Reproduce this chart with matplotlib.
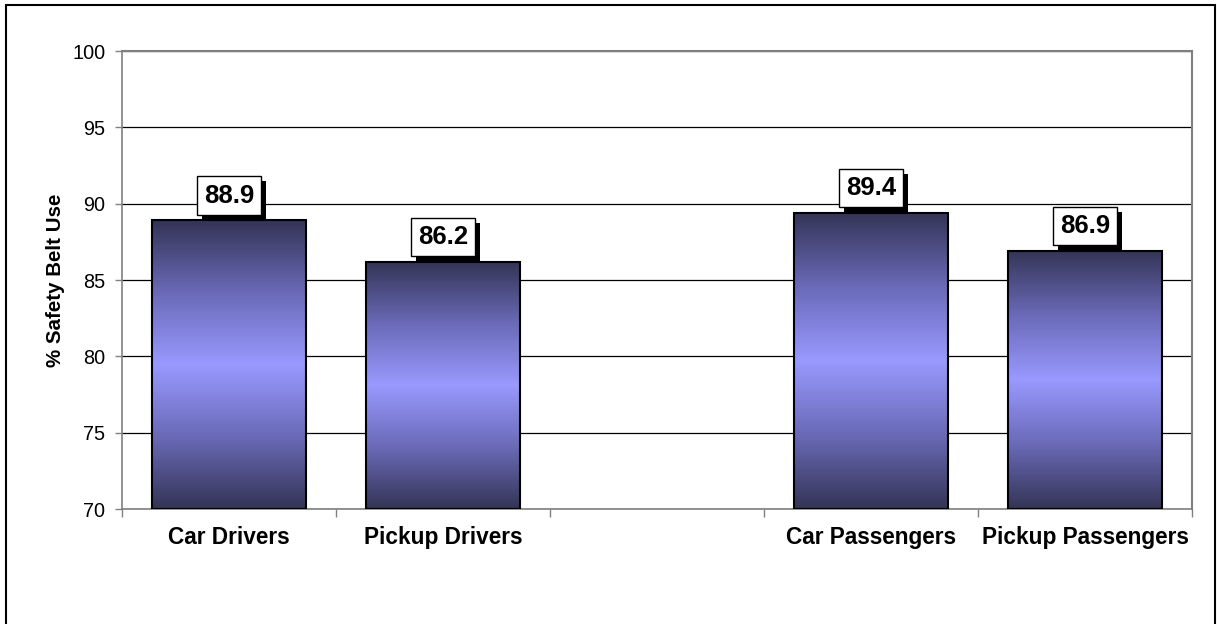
import numpy as np
import matplotlib
matplotlib.use("Agg")
import matplotlib.pyplot as plt
import matplotlib.patheffects as pe
from matplotlib.colors import LinearSegmentedColormap
from matplotlib.patches import Rectangle

categories = ["Car Drivers", "Pickup Drivers", "", "Car Passengers", "Pickup Passengers"]
values = [88.9, 86.2, None, 89.4, 86.9]
y_ticks = [70, 75, 80, 85, 90, 95, 100]

plt.rcParams['font.family'] = ['Liberation Sans', 'DejaVu Sans']

fig = plt.figure(figsize=(12.17, 6.24), dpi=100)
ax = fig.add_axes([122/1217, 1-509/624, (1192-122)/1217, (509-51)/624])

cmap = LinearSegmentedColormap.from_list("bar", ["#343456", "#6a6ab8", "#9999ff", "#6a6ab8", "#343456"])
grad = np.linspace(0, 1, 256).reshape(-1, 1)

width = 0.715
ymin, ymax = 70, 100
xs = np.arange(len(categories))
for x, v in zip(xs, values):
    if v is None:
        continue
    ax.imshow(grad, extent=(x - width/2, x + width/2, ymin, v), cmap=cmap,
              aspect='auto', origin='lower', zorder=2, interpolation='bilinear')
    ax.bar(x, v - ymin, bottom=ymin, width=width, facecolor='none',
           edgecolor='black', linewidth=1.5, zorder=3)
    t = ax.annotate(f"{v:.1f}", xy=(x, v), xytext=(0, 9.2), textcoords='offset points',
                    ha='center', va='bottom', fontsize=18.5, fontweight='bold', color='black',
                    bbox=dict(boxstyle='square,pad=0.28', fc='white', ec='black', lw=1), zorder=5)
    t.get_bbox_patch().set_path_effects([
        pe.SimplePatchShadow(offset=(3.6, -3.6), shadow_rgbFace='black', alpha=1.0),
        pe.Normal()])

ax.set_xlim(-0.5, len(categories) - 0.5)
ax.set_ylim(ymin, ymax)
ax.set_yticks(y_ticks)
ax.set_yticklabels([str(t) for t in y_ticks], fontsize=14.3)
ax.yaxis.grid(True, color='black', linewidth=0.9)
ax.set_axisbelow(True)

ax.set_xticks(xs)
ax.set_xticklabels(categories, fontsize=16.3, fontweight='bold')
ax.tick_params(axis='x', which='major', length=0, pad=12)
ax.set_xticks(np.arange(len(categories) + 1) - 0.5, minor=True)
ax.tick_params(axis='x', which='minor', length=6, width=1, color='#808080', direction='out')
ax.tick_params(axis='y', length=5, width=1, color='#808080', pad=7)

for s in ['left', 'bottom']:
    ax.spines[s].set_color('#808080')
    ax.spines[s].set_linewidth(1.2)
for s in ['top', 'right']:
    ax.spines[s].set_color('#808080')
    ax.spines[s].set_linewidth(1.5)

ax.set_ylabel("% Safety Belt Use", fontsize=14.8, fontweight='bold', labelpad=5)

fig.patches.append(Rectangle((6/1217, -0.05), (1215-6)/1217, 1 - 5/624 + 0.05,
                             transform=fig.transFigure, fill=False, edgecolor='black',
                             linewidth=1.5))

fig.savefig("out.png", dpi=100)
